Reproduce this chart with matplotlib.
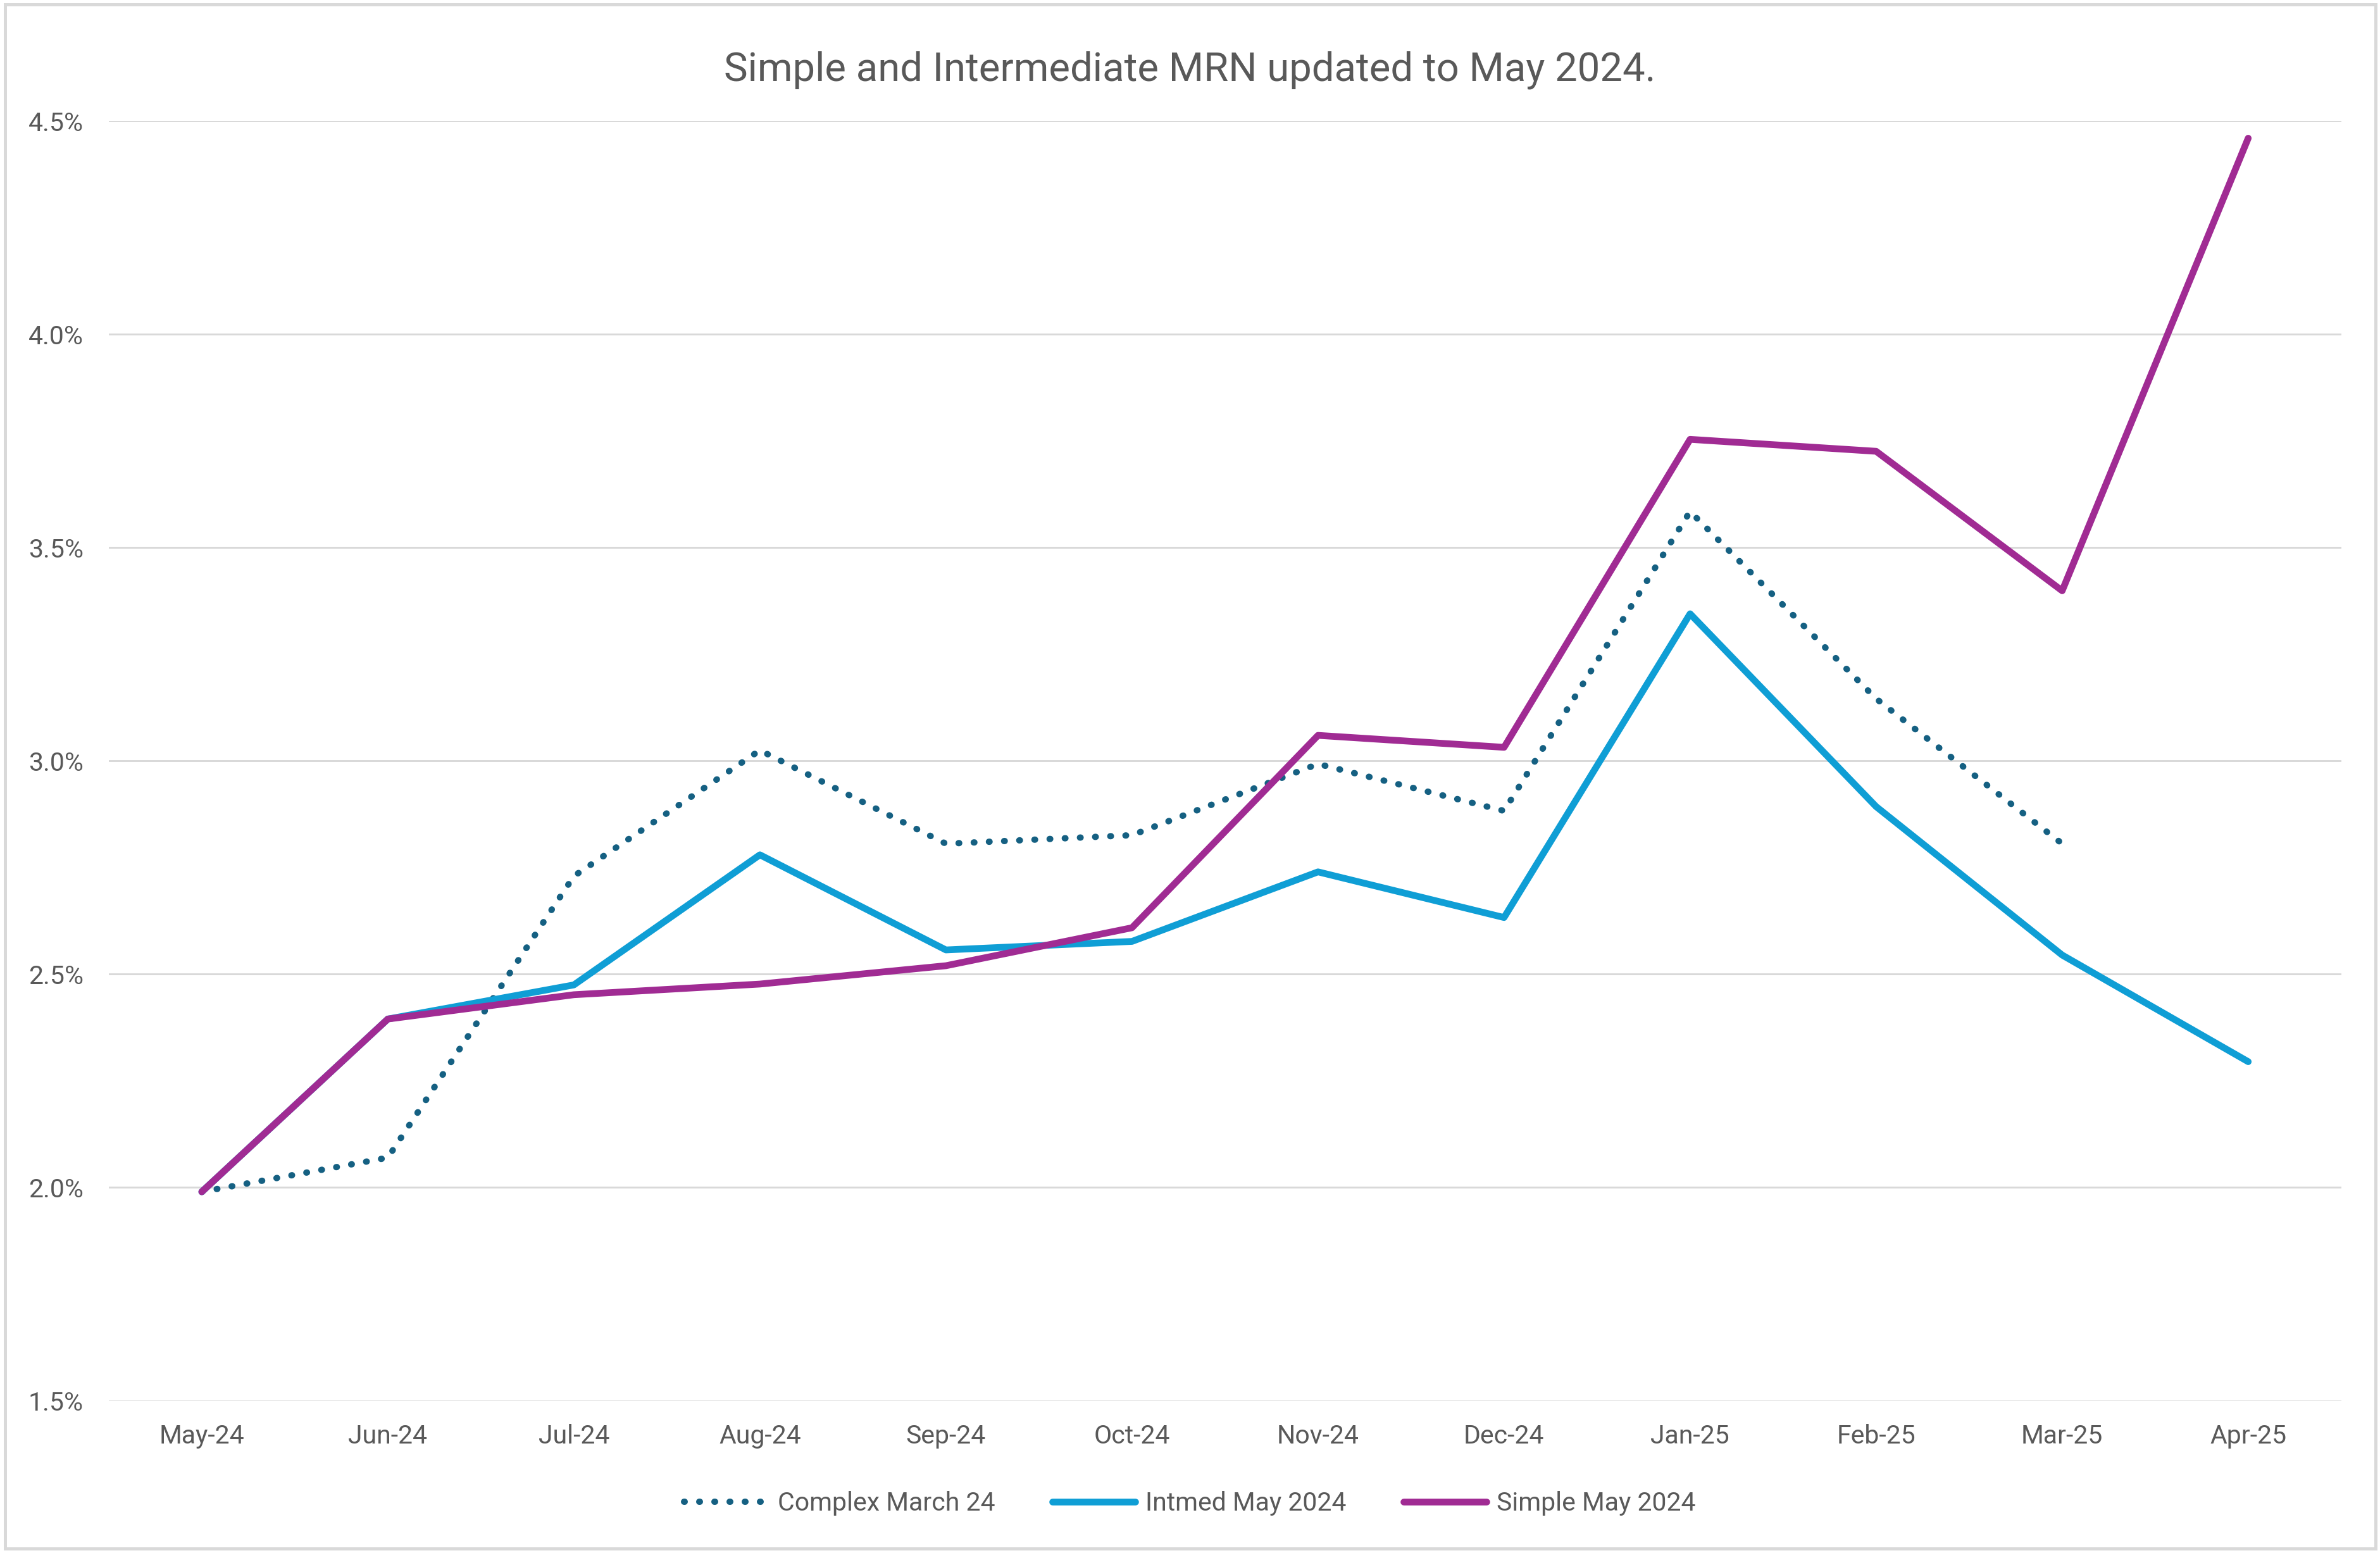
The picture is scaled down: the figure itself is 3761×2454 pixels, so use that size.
import matplotlib
matplotlib.use('Agg')
import matplotlib.pyplot as plt
from matplotlib.patches import Rectangle
from matplotlib.ticker import FuncFormatter

# ── data ───────────────────────────────────────────────────
months = ['May-24', 'Jun-24', 'Jul-24', 'Aug-24', 'Sep-24', 'Oct-24',
          'Nov-24', 'Dec-24', 'Jan-25', 'Feb-25', 'Mar-25', 'Apr-25']
complex_mar24 = [1.99, 2.07, 2.73, 3.025, 2.806, 2.826, 2.993, 2.883,
                 3.585, 3.146, 2.806]
intmed_may24 = [1.99, 2.395, 2.475, 2.78, 2.557, 2.577, 2.74, 2.633,
                3.345, 2.893, 2.545, 2.295]
simple_may24 = [1.99, 2.395, 2.452, 2.477, 2.52, 2.609, 3.06, 3.032,
                3.754, 3.726, 3.399, 4.46]
y_ticks = [1.5, 2.0, 2.5, 3.0, 3.5, 4.0, 4.5]

TEXT = '#595959'
GRID = '#D9D9D9'
plt.rcParams['font.family'] = ['Roboto', 'DejaVu Sans']

fig = plt.figure(figsize=(15.671, 10.225), dpi=240)
ax = fig.add_axes([0.0457, 0.098, 0.938, 0.824])

x = list(range(len(months)))
ax.plot(x[:len(complex_mar24)], complex_mar24, color='#156082', lw=3.0,
        linestyle=(0, (0.1, 2.3)), dash_capstyle='round',
        label='Complex March 24')
ax.plot(x, intmed_may24, color='#0F9ED5', lw=3.2, solid_capstyle='round',
        label='Intmed May 2024')
ax.plot(x, simple_may24, color='#A02B93', lw=3.2, solid_capstyle='round',
        label='Simple May 2024')

ax.set_xlim(-0.5, len(months) - 0.5)
ax.set_ylim(1.5, 4.5)
ax.set_yticks(y_ticks)
ax.yaxis.set_major_formatter(FuncFormatter(lambda v, p: f'{v:.1f}%'))
ax.set_xticks(x)
ax.set_xticklabels(months)
ax.tick_params(length=0, labelsize=12.3, colors=TEXT, pad=11)
ax.tick_params(axis='y', pad=12)
ax.grid(axis='y', color=GRID, lw=0.9)
ax.set_axisbelow(True)
for s in ax.spines.values():
    s.set_visible(False)

fig.suptitle('Simple and Intermediate MRN updated to May 2024.',
             y=0.967, fontsize=19, color=TEXT)

leg = fig.legend(loc='center', bbox_to_anchor=(0.5, 0.032), ncol=3,
                 frameon=False, fontsize=12.3, handlelength=3.2,
                 columnspacing=2.2, handletextpad=0.4)
for t in leg.get_texts():
    t.set_color(TEXT)

# light border round the whole chart area
fig.patches.append(Rectangle((0.002, 0.003), 0.996, 0.994,
                             transform=fig.transFigure, fill=False,
                             edgecolor=GRID, lw=1.5))

fig.savefig('out.png', dpi=240)
